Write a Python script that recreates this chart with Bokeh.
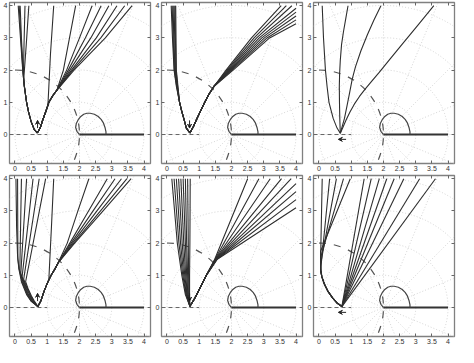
import math
from bokeh.plotting import figure
from bokeh.layouts import gridplot
from bokeh.models import Range1d, FixedTicker, LinearAxis, Arrow, VeeHead
from bokeh.embed import file_html
from bokeh.resources import INLINE

# ---------------- axes ----------------
x_ticks = [0, 0.5, 1, 1.5, 2, 2.5, 3, 3.5, 4]
x_tick_labels = ["0", "0.5", "1", "1.5", "2", "2.5", "3", "3.5", "4"]
y_ticks = [0, 1, 2, 3, 4]
y_tick_labels = ["0", "1", "2", "3", "4"]
x_limits = [-0.17, 4.2]
y_limits = [-0.9, 4.1]

# ---------------- polar background grid ----------------
grid_cx = [2.0]
grid_cy = [0.0]
grid_radii = [1.0, 2.0, 3.0, 4.0, 5.0]
grid_angles = [0, 22.5, 45, 67.5, 90, 112.5, 135, 157.5, 180,
               202.5, 225, 247.5, 270, 292.5, 315, 337.5]

# ---------------- common features ----------------
circle_r = [2.0]
loop_x = [2.0, 1.92, 1.88, 1.9, 1.96, 2.04, 2.13, 2.23, 2.33, 2.46, 2.58, 2.67, 2.74, 2.79, 2.82, 2.82]
loop_y = [0.0, 0.1, 0.22, 0.34, 0.46, 0.56, 0.63, 0.66, 0.66, 0.63, 0.56, 0.47, 0.36, 0.22, 0.08, 0.0]
seg_x = [2.0, 4.0]
seg_y = [0.0, 0.0]
neg_x = [-0.17, 1.0]
neg_y = [0.0, 0.0]

arrow_up_x = [0.7, 0.7]
arrow_up_y = [0.2, 0.44]
arrow_down_x = [0.7, 0.7]
arrow_down_y = [0.44, 0.2]
arrow_left_x = [0.84, 0.6]
arrow_left_y = [-0.15, -0.15]

# ---------------- panel 1 ----------------
p1_left_x = [0.69, 0.6, 0.5, 0.42, 0.36, 0.29]
p1_left_y = [0.05, 0.15, 0.4, 0.7, 1.0, 1.5]
p1_left_tail_x = [[0.24, 0.17, 0.10], [0.245, 0.185, 0.13], [0.25, 0.2, 0.16],
                  [0.26, 0.28, 0.31], [0.27, 0.35, 0.43]]
p1_left_tail_y = [[2.0, 3.0, 4.0], [2.0, 3.0, 4.0], [2.0, 3.0, 4.0],
                  [1.8, 2.8, 4.0], [1.7, 2.8, 4.0]]
p1_right_x = [0.69, 0.78, 0.86, 0.95, 1.05, 1.18, 1.3]
p1_right_y = [0.05, 0.2, 0.45, 0.7, 1.0, 1.22, 1.38]
p1_steep_x = [0.69, 0.78, 0.86, 0.95, 1.02, 1.05, 1.1, 1.2]
p1_steep_y = [0.05, 0.2, 0.45, 0.7, 0.9, 1.5, 2.5, 4.0]
p1_fan_x2 = [1.50, 1.60, 1.65, 1.70, 1.75, 1.79, 1.83]
p1_fan_x3 = [1.69, 2.0, 2.18, 2.35, 2.52, 2.66, 2.8]
p1_fan_top = [1.88, 2.39, 2.67, 2.91, 3.16, 3.40, 3.63]

# ---------------- panel 2 ----------------
p2_left_x = [0.71, 0.6, 0.52, 0.45, 0.39]
p2_left_y = [0.05, 0.2, 0.5, 0.75, 1.0]
p2_wedge_x15 = [0.29, 0.30, 0.31, 0.32, 0.33, 0.34]
p2_wedge_x2 = [0.22, 0.23, 0.25, 0.26, 0.28, 0.29]
p2_wedge_x3 = [0.17, 0.19, 0.21, 0.24, 0.26, 0.28]
p2_wedge_top = [0.13, 0.16, 0.19, 0.22, 0.25, 0.27]
p2_right_x = [0.71, 0.82, 0.93, 1.05, 1.17, 1.3, 1.46]
p2_right_y = [0.05, 0.25, 0.5, 0.75, 1.0, 1.25, 1.5]
p2_fan_x2 = [1.83, 1.86, 1.89, 1.92, 1.95, 1.98, 2.01, 2.05]
p2_fan_x3 = [2.62, 2.70, 2.78, 2.86, 2.94, 3.02, 3.10, 3.18]
p2_fan_end_x = [3.54, 3.70, 3.87, 4.0, 4.0, 4.0, 4.0, 4.0]
p2_fan_end_y = [4.0, 4.0, 4.0, 3.92, 3.80, 3.68, 3.56, 3.44]

# ---------------- panel 3 ----------------
p3_x = [[0.66, 0.56, 0.44, 0.31, 0.25, 0.2, 0.14, 0.1],
        [0.66, 0.645, 0.635, 0.63, 0.64, 0.66, 0.7, 0.76, 0.83, 0.9],
        [0.66, 0.72, 0.79, 0.87, 0.95, 1.03, 1.13, 1.3, 1.5, 1.7, 1.92],
        [0.66, 0.74, 0.84, 0.96, 1.1, 1.26, 1.43, 1.63, 1.86, 2.2, 2.6, 3.08, 3.56]]
p3_y = [[0.04, 0.2, 0.5, 1.0, 1.5, 2.0, 3.0, 4.0],
        [0.04, 0.5, 1.0, 1.5, 1.9, 2.3, 2.8, 3.2, 3.6, 4.0],
        [0.04, 0.25, 0.5, 0.9, 1.3, 1.72, 2.1, 2.6, 3.1, 3.55, 4.0],
        [0.04, 0.22, 0.45, 0.7, 0.95, 1.19, 1.41, 1.65, 1.92, 2.34, 2.83, 3.41, 4.0]]

# ---------------- panel 4 ----------------
p4_left_x = [[0.71, 0.5, 0.36, 0.2, 0.12, 0.08, 0.05, 0.03],
             [0.71, 0.5, 0.37, 0.22, 0.13, 0.09, 0.08],
             [0.71, 0.52, 0.39, 0.25, 0.15, 0.2],
             [0.71, 0.54, 0.42, 0.28, 0.18, 0.36],
             [0.71, 0.56, 0.45, 0.32, 0.22, 0.56],
             [0.71, 0.58, 0.48, 0.36, 0.27, 0.75],
             [0.71, 0.6, 0.51, 0.4, 0.33, 0.95]]
p4_left_y = [[0.03, 0.2, 0.4, 0.8, 1.2, 1.6, 2.5, 4.0],
             [0.03, 0.2, 0.42, 0.8, 1.2, 1.5, 4.0],
             [0.03, 0.2, 0.42, 0.78, 1.15, 4.0],
             [0.03, 0.2, 0.4, 0.75, 1.05, 4.0],
             [0.03, 0.2, 0.4, 0.7, 0.95, 4.0],
             [0.03, 0.2, 0.38, 0.65, 0.88, 4.0],
             [0.03, 0.2, 0.36, 0.6, 0.8, 4.0]]
p4_right_x = [0.71, 0.8, 0.9, 1.0, 1.12, 1.24, 1.34]
p4_right_y = [0.03, 0.2, 0.5, 0.75, 1.0, 1.2, 1.39]
p4_steep_x = [0.71, 0.8, 0.9, 1.0, 1.05, 1.08, 1.13, 1.2]
p4_steep_y = [0.03, 0.2, 0.5, 0.75, 0.88, 1.5, 2.5, 4.0]
p4_fan_x2 = [1.62, 1.70, 1.74, 1.78, 1.82, 1.85]
p4_fan_x3 = [1.95, 2.28, 2.42, 2.54, 2.65, 2.73]
p4_fan_top = [2.29, 2.86, 3.10, 3.30, 3.47, 3.60]

# ---------------- panel 5 ----------------
p5_left_x04 = [0.57, 0.59, 0.60, 0.62, 0.63, 0.65, 0.66, 0.68, 0.70]
p5_left_x1 = [0.46, 0.49, 0.52, 0.55, 0.58, 0.61, 0.64, 0.67, 0.70]
p5_left_x2 = [0.32, 0.37, 0.42, 0.47, 0.52, 0.57, 0.61, 0.66, 0.71]
p5_left_top = [0.15, 0.22, 0.29, 0.36, 0.43, 0.50, 0.57, 0.64, 0.72]
p5_right_x = [0.71, 0.84, 0.97, 1.22]
p5_right_y = [0.04, 0.25, 0.5, 1.0]
p5_fan_x15 = [1.48, 1.49, 1.50, 1.51, 1.52, 1.53, 1.54, 1.55, 1.56]
p5_fan_end_x = [2.5, 2.85, 3.2, 3.55, 3.85, 4.0, 4.0, 4.0, 4.0]
p5_fan_end_y = [4.0, 4.0, 4.0, 4.0, 4.0, 3.85, 3.6, 3.35, 3.1]

# ---------------- panel 6 ----------------
p6_low_x = [0.71, 0.55, 0.42, 0.28, 0.17, 0.09]
p6_low_y = [0.03, 0.15, 0.3, 0.5, 0.72, 0.95]
p6_tail_x = [[0.05, 0.06, 0.08, 0.10],
             [0.05, 0.33],
             [0.05, 0.05, 0.54],
             [0.05, 0.05, 0.76],
             [0.05, 0.05, 0.97]]
p6_tail_y = [[1.3, 2.0, 3.0, 4.0],
             [1.15, 4.0],
             [1.15, 1.35, 4.0],
             [1.15, 1.55, 4.0],
             [1.15, 1.75, 4.0]]
p6_vertex = [0.71, 0.03]
p6_right_top = [1.4, 1.62, 1.87, 2.1, 2.33, 2.63, 3.12, 3.61]

CURVE = "#2e2e2e"


def build_p1():
    xs, ys = [], []
    for tx, ty in zip(p1_left_tail_x, p1_left_tail_y):
        xs.append(p1_left_x + tx); ys.append(p1_left_y + ty)
    xs.append(p1_steep_x); ys.append(p1_steep_y)
    for a, b, t in zip(p1_fan_x2, p1_fan_x3, p1_fan_top):
        xs.append(p1_right_x + [a, b, t]); ys.append(p1_right_y + [2.0, 3.0, 4.0])
    return xs, ys


def build_p2():
    xs, ys = [], []
    for a, b, c, t in zip(p2_wedge_x15, p2_wedge_x2, p2_wedge_x3, p2_wedge_top):
        xs.append(p2_left_x + [a, b, c, t]); ys.append(p2_left_y + [1.5, 2.0, 3.0, 4.0])
    for a, b, ex, ey in zip(p2_fan_x2, p2_fan_x3, p2_fan_end_x, p2_fan_end_y):
        xs.append(p2_right_x + [a, b, ex]); ys.append(p2_right_y + [2.0, 3.0, ey])
    return xs, ys


def build_p3():
    return p3_x, p3_y


def build_p4():
    xs, ys = list(p4_left_x), list(p4_left_y)
    xs.append(p4_steep_x); ys.append(p4_steep_y)
    for a, b, t in zip(p4_fan_x2, p4_fan_x3, p4_fan_top):
        xs.append(p4_right_x + [a, b, t]); ys.append(p4_right_y + [2.0, 3.0, 4.0])
    return xs, ys


def build_p5():
    xs, ys = [], []
    for a, b, c, t in zip(p5_left_x04, p5_left_x1, p5_left_x2, p5_left_top):
        xs.append([0.71, a, b, c, t]); ys.append([0.04, 0.4, 1.0, 2.0, 4.0])
    for a, ex, ey in zip(p5_fan_x15, p5_fan_end_x, p5_fan_end_y):
        xs.append(p5_right_x + [a, ex]); ys.append(p5_right_y + [1.5, ey])
    return xs, ys


def build_p6():
    xs, ys = [], []
    for tx, ty in zip(p6_tail_x, p6_tail_y):
        xs.append(p6_low_x + tx); ys.append(p6_low_y + ty)
    for t in p6_right_top:
        xs.append([p6_vertex[0], t]); ys.append([p6_vertex[1], 4.0])
    return xs, ys


def style_axis(ax, ticks, labels, show_labels=True):
    ax.ticker = FixedTicker(ticks=ticks)
    ax.major_label_overrides = {k: (v if show_labels else "") for k, v in zip(ticks, labels)}
    ax.minor_tick_line_color = None
    ax.major_tick_in = 3
    ax.major_tick_out = 0
    ax.major_tick_line_color = "#666666"
    ax.axis_line_color = None
    ax.major_label_text_font = "Liberation Sans"
    ax.major_label_text_font_size = "7px" if show_labels else "0px"
    ax.major_label_text_color = "#333333"
    ax.major_label_standoff = 2 if show_labels else 0


def make_panel(xs, ys, ax_x, ax_y):
    p = figure(width=152, height=173, output_backend="svg", toolbar_location=None,
               x_range=Range1d(*x_limits), y_range=Range1d(*y_limits),
               min_border_left=9, min_border_right=2, min_border_top=2, min_border_bottom=9)
    p.grid.visible = False
    p.outline_line_color = "#808080"
    p.outline_line_width = 1.3
    style_axis(p.xaxis[0], x_ticks, x_tick_labels)
    style_axis(p.yaxis[0], y_ticks, y_tick_labels)
    top = LinearAxis()
    style_axis(top, x_ticks, x_tick_labels, show_labels=False)
    p.add_layout(top, "above")
    right = LinearAxis()
    style_axis(right, y_ticks, y_tick_labels, show_labels=False)
    p.add_layout(right, "right")

    # polar grid
    p.arc(x=grid_cx * len(grid_radii), y=grid_cy * len(grid_radii), radius=grid_radii,
          start_angle=0, end_angle=2 * math.pi, line_color="#cacaca", line_width=0.8,
          line_dash="1 2")
    p.ray(x=grid_cx * len(grid_angles), y=grid_cy * len(grid_angles), length=0,
          angle=grid_angles, angle_units="deg", line_color="#cacaca", line_width=0.8,
          line_dash="1 2")

    # dashed circle radius 2
    p.arc(x=[0.0], y=[0.0], radius=circle_r, start_angle=math.pi / 2,
          end_angle=-math.pi / 2, direction="clock", line_color="#555555",
          line_width=1.2, line_dash="7 8")
    # axis pieces
    p.line(neg_x, neg_y, line_color="#666666", line_width=1, line_dash="4 3")
    p.line(seg_x, seg_y, line_color="#333333", line_width=2)
    # loop
    p.line(loop_x, loop_y, line_color="#444444", line_width=1.2)
    # curves
    p.multi_line(xs=xs, ys=ys, line_color=CURVE, line_width=1.1, line_join="round")
    # arrow
    p.add_layout(Arrow(end=VeeHead(size=4, line_color="#222222", line_width=1),
                       x_start=ax_x[0], y_start=ax_y[0], x_end=ax_x[1], y_end=ax_y[1],
                       line_color="#222222", line_width=1))
    return p


panels = [
    make_panel(*build_p1(), arrow_up_x, arrow_up_y),
    make_panel(*build_p2(), arrow_down_x, arrow_down_y),
    make_panel(*build_p3(), arrow_left_x, arrow_left_y),
    make_panel(*build_p4(), arrow_up_x, arrow_up_y),
    make_panel(*build_p5(), arrow_down_x, arrow_down_y),
    make_panel(*build_p6(), arrow_left_x, arrow_left_y),
]

grid = gridplot(panels, ncols=3, toolbar_location=None)
open("out.html", "w").write(file_html(grid, INLINE))
